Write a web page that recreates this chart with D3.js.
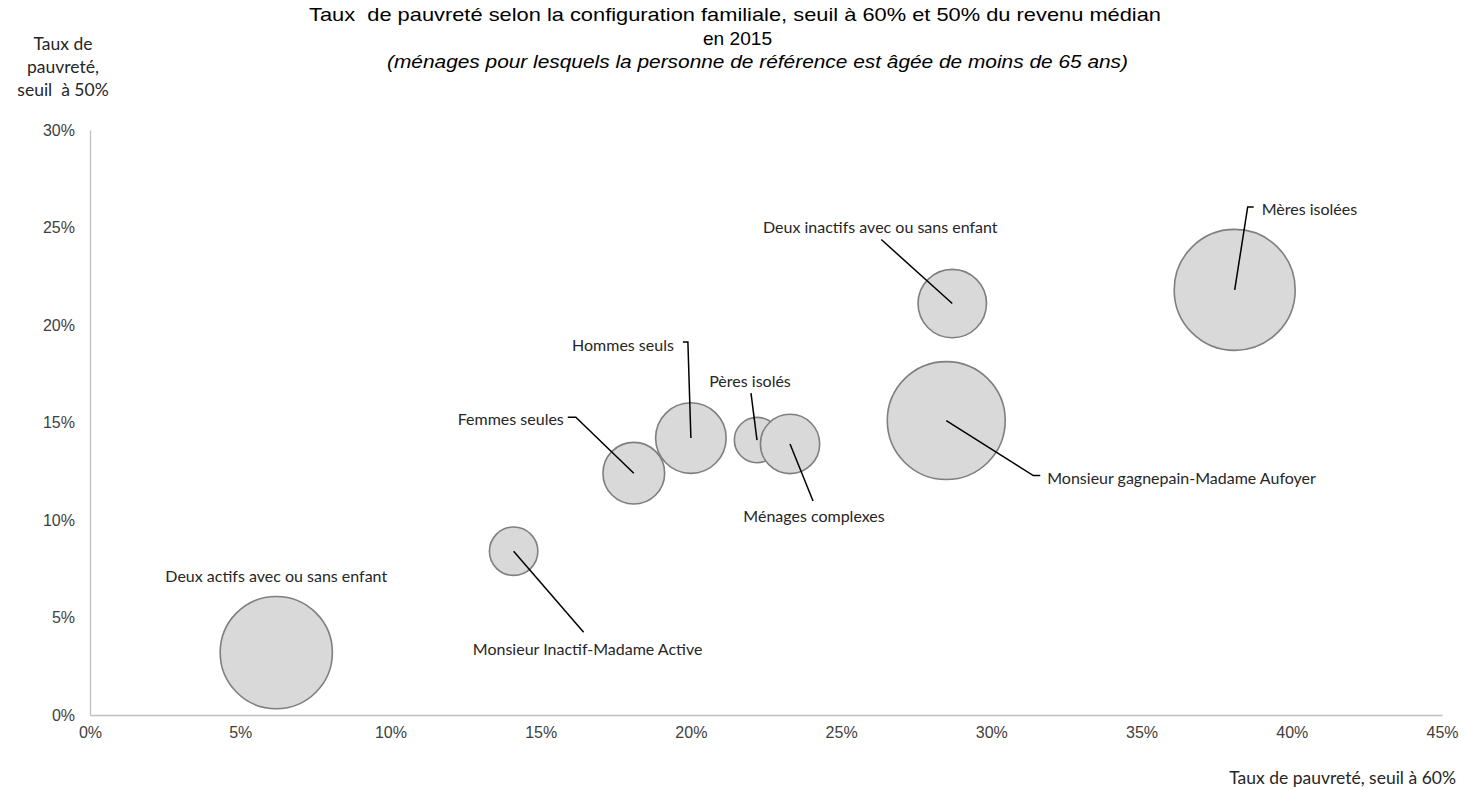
<!DOCTYPE html>
<html>
<head>
<meta charset="utf-8">
<script src="https://cdn.jsdelivr.net/npm/d3@7"></script>
<style>
  body { margin: 0; background: #ffffff; }
  svg { display: block; }
</style>
</head>
<body>
<svg id="chart" width="1464" height="790"></svg>
<script>
// Household configurations (poverty rates in %)
const categories = [
  "Deux actifs avec ou sans enfant",
  "Monsieur Inactif-Madame Active",
  "Femmes seules",
  "Hommes seuls",
  "Pères isolés",
  "Ménages complexes",
  "Monsieur gagnepain-Madame Aufoyer",
  "Deux inactifs avec ou sans enfant",
  "Mères isolées"
];
const seuil60 = [6.2, 14.1, 18.1, 20.0, 22.2, 23.3, 28.5, 28.7, 38.1];
const seuil50 = [3.2, 8.4, 12.4, 14.2, 14.1, 13.9, 15.1, 21.1, 21.8];
const poids   = [8.6, 1.6, 2.6, 3.4, 1.4, 2.4, 9.5, 3.2, 10.0];

const xTicks = [0, 5, 10, 15, 20, 25, 30, 35, 40, 45];
const yTicks = [0, 5, 10, 15, 20, 25, 30];

const titleLines = [
  "Taux  de pauvreté selon la configuration familiale, seuil à 60% et 50% du revenu médian",
  "en 2015"
];
const subtitle = "(ménages pour lesquels la personne de référence est âgée de moins de 65 ans)";
const yTitle = ["Taux de", "pauvreté,", "seuil  à 50%"];
const xTitle = "Taux de pauvreté, seuil à 60%";

// Label placement relative to each bubble centre (pixels):
// label anchor point, text-anchor, and optional leader-line vertices.
const labelLayout = [
  { lx: 0,   ly: -77, anchor: "middle", leader: null },
  { lx: 74,  ly: 97,  anchor: "middle", leader: [[0, 0], [70, 81]] },
  { lx: -70, ly: -55, anchor: "end",    leader: [[0, 0], [-58, -56], [-66, -56]] },
  { lx: -17, ly: -94, anchor: "end",    leader: [[0, 0], [-3, -96], [-8, -96]] },
  { lx: -7,  ly: -60, anchor: "middle", leader: [[0, 0], [-6, -47]] },
  { lx: 24,  ly: 72,  anchor: "middle", leader: [[0, 0], [23, 57]] },
  { lx: 101, ly: 57,  anchor: "start",  leader: [[0, 0], [87, 55], [94, 55]] },
  { lx: -72, ly: -77, anchor: "middle", leader: [[0, 0], [-71, -64]] },
  { lx: 27,  ly: -81, anchor: "start",  leader: [[0, 0], [13, -83], [19, -83]] }
];

const data = categories.map((c, i) => ({
  name: c, x: seuil60[i], y: seuil50[i], size: poids[i], layout: labelLayout[i]
}));

const svg = d3.select("#chart");

const x = d3.scaleLinear().domain([0, 45]).range([90, 1442]);
const y = d3.scaleLinear().domain([0, 30]).range([715, 130]);
const r = d3.scaleSqrt().domain([0, d3.max(poids)]).range([0, 60.5]);

const tickFont = "Liberation Sans, Arial, sans-serif";
const labelFont = "Lato, Carlito, Calibri, sans-serif";

// Axes
const yAxis = svg.append("g")
  .attr("transform", `translate(${x(0)},0)`)
  .call(d3.axisLeft(y).tickValues(yTicks).tickFormat(d => d + "%").tickSize(0).tickPadding(15));
const xAxis = svg.append("g")
  .attr("transform", `translate(0,${y(0)})`)
  .call(d3.axisBottom(x).tickValues(xTicks).tickFormat(d => d + "%").tickSize(0).tickPadding(12));

[xAxis, yAxis].forEach(g => {
  g.select(".domain").attr("stroke", "#bfbfbf").attr("stroke-width", 1.3);
  g.selectAll("text")
    .attr("font-family", tickFont)
    .attr("font-size", 16)
    .attr("fill", "#404040");
});

// Bubbles
svg.append("g").selectAll("circle")
  .data(data)
  .join("circle")
  .attr("cx", d => x(d.x))
  .attr("cy", d => y(d.y))
  .attr("r", d => r(d.size))
  .attr("fill", "#d9d9d9")
  .attr("stroke", "#7f7f7f")
  .attr("stroke-width", 1.6);

// Leader lines
const line = d3.line();
svg.append("g").selectAll("path")
  .data(data.filter(d => d.layout.leader))
  .join("path")
  .attr("d", d => line(d.layout.leader.map(([dx, dy]) => [x(d.x) + dx, y(d.y) + dy])))
  .attr("fill", "none")
  .attr("stroke", "#000")
  .attr("stroke-width", 1.5);

// Data labels
svg.append("g").selectAll("text")
  .data(data)
  .join("text")
  .attr("x", d => x(d.x) + d.layout.lx)
  .attr("y", d => y(d.y) + d.layout.ly)
  .attr("text-anchor", d => d.layout.anchor)
  .attr("dominant-baseline", "central")
  .attr("font-family", labelFont)
  .attr("font-size", 16)
  .attr("fill", "#262626")
  .text(d => d.name);

// Title (widths set so each line spans its full measure)
const titleSpec = [
  { text: titleLines[0], cx: 735, y: 21, len: 852, italic: false },
  { text: titleLines[1], cx: 737.5, y: 44.5, len: 69, italic: false },
  { text: subtitle, cx: 757.5, y: 68, len: 741, italic: true }
];
svg.append("g").selectAll("text")
  .data(titleSpec)
  .join("text")
  .attr("x", d => d.cx)
  .attr("y", d => d.y)
  .attr("text-anchor", "middle")
  .attr("font-family", tickFont)
  .attr("font-size", 18.5)
  .attr("font-style", d => d.italic ? "italic" : "normal")
  .attr("fill", "#000")
  .attr("textLength", d => d.len)
  .attr("lengthAdjust", "spacingAndGlyphs")
  .style("white-space", "pre")
  .text(d => d.text);

// Axis titles
svg.append("g").selectAll("text")
  .data(yTitle)
  .join("text")
  .attr("x", 63)
  .attr("y", (d, i) => 50 + i * 23)
  .attr("text-anchor", "middle")
  .attr("font-family", labelFont)
  .attr("font-size", 17.5)
  .attr("fill", "#262626")
  .style("white-space", "pre")
  .text(d => d);

svg.append("text")
  .attr("x", 1456)
  .attr("y", 784)
  .attr("text-anchor", "end")
  .attr("font-family", labelFont)
  .attr("font-size", 17.5)
  .attr("fill", "#262626")
  .text(xTitle);
</script>
</body>
</html>
